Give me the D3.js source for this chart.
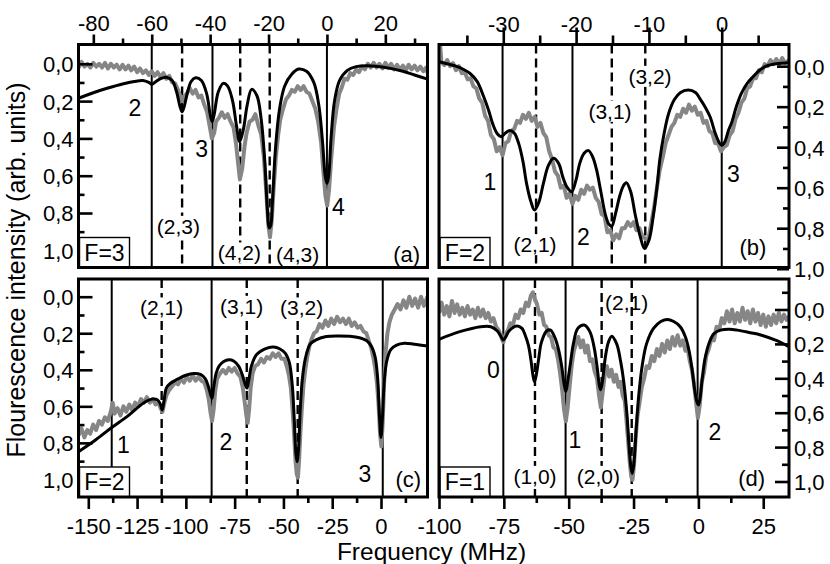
<!DOCTYPE html>
<html><head><meta charset="utf-8">
<script src="https://cdn.jsdelivr.net/npm/d3@7"></script>
<style>
html,body{margin:0;padding:0;background:#fff}
svg{display:block}
text{font-family:"Liberation Sans",Arial,Helvetica,sans-serif;fill:#000}
</style>
</head><body>
<svg id="chart" width="830" height="564"></svg>
<script>
// ---------------- DATA ----------------
// Panel (a) F=3
const fitA = [[-85.1,0.185],[-80,0.155],[-75,0.13],[-70,0.108],[-66,0.095],[-63,0.09],[-61,0.1],[-60,0.11],[-59,0.1],[-57,0.08],[-55,0.072],[-53,0.09],[-51.5,0.15],[-50.3,0.23],[-49.6,0.257],[-48.9,0.23],[-47.7,0.15],[-46.5,0.095],[-45,0.075],[-43,0.09],[-41.2,0.16],[-40,0.27],[-39.3,0.31],[-38.6,0.27],[-37.2,0.15],[-35.5,0.105],[-34,0.12],[-32.3,0.2],[-31,0.33],[-29.9,0.418],[-28.6,0.35],[-27.3,0.22],[-25.8,0.137],[-24,0.17],[-22.5,0.3],[-21.3,0.52],[-20.4,0.78],[-19.8,0.88],[-19.3,0.87],[-18.6,0.72],[-17.6,0.45],[-16.3,0.25],[-14.5,0.12],[-12,0.055],[-9.7,0.028],[-7,0.04],[-4.5,0.1],[-2.8,0.22],[-1.5,0.42],[-0.6,0.6],[0,0.641],[0.6,0.6],[1.4,0.4],[2.6,0.2],[4.3,0.09],[7,0.035],[10,0.015],[14,0.01],[20,0.02],[26,0.04],[30,0.06],[34.5,0.082]];
const dataA = [[-85,0.02],[-84,-0.01],[-83,0.015],[-82,0.0],[-81,0.02],[-80,-0.005],[-79,0.015],[-78,0.0],[-77,0.02],[-76,-0.005],[-75,0.025],[-74,0.0],[-73,0.02],[-72,0.005],[-71,0.03],[-70,0.005],[-69,0.03],[-68,0.01],[-67,0.035],[-66,0.015],[-65,0.045],[-64,0.025],[-63,0.05],[-62,0.035],[-61,0.06],[-60,0.04],[-59,0.065],[-58,0.045],[-57,0.07],[-56,0.05],[-55,0.08],[-54,0.065],[-53,0.1],[-52,0.105],[-51,0.14],[-50.3,0.17],[-49.6,0.2],[-48.8,0.175],[-48,0.16],[-47,0.13],[-46,0.16],[-45,0.14],[-44,0.18],[-43,0.17],[-42,0.22],[-41,0.26],[-40.2,0.33],[-39.4,0.4],[-38.6,0.37],[-38,0.31],[-37,0.29],[-36,0.26],[-35,0.29],[-34,0.27],[-33,0.31],[-32,0.34],[-31.2,0.42],[-30.5,0.52],[-29.8,0.62],[-29,0.56],[-28.2,0.44],[-27.5,0.37],[-26.5,0.31],[-25.5,0.3],[-24.5,0.27],[-23.5,0.33],[-22.5,0.38],[-21.6,0.5],[-20.8,0.68],[-20.1,0.86],[-19.5,0.93],[-18.9,0.84],[-18.3,0.68],[-17.5,0.5],[-16.7,0.38],[-16,0.3],[-15,0.24],[-14,0.19],[-13,0.17],[-12,0.14],[-11,0.15],[-10,0.12],[-9,0.14],[-8,0.12],[-7,0.15],[-6,0.16],[-5,0.2],[-4,0.24],[-3,0.31],[-2,0.42],[-1.2,0.58],[-0.5,0.71],[0.1,0.76],[0.7,0.68],[1.5,0.5],[2.4,0.34],[3.3,0.24],[4.2,0.16],[5,0.13],[6,0.08],[7,0.085],[8,0.05],[9,0.06],[10,0.03],[11,0.045],[12,0.015],[13,0.03],[14,0.0],[15,0.02],[16,-0.005],[17,0.02],[18,0.0],[19,0.025],[20,-0.005],[21,0.02],[22,0.0],[23,0.03],[24,0.005],[25,0.03],[26,0.01],[27,0.035],[28,0.005],[29,0.03],[30,0.01],[31,0.035],[32,0.015],[33,0.04],[34,0.02],[34.5,0.05]];
const solidA = [-60, -39.2, 0];
const dashedA = [-49.6, -29.7, -19.6];
const xTicksA = [-80, -60, -40, -20, 0, 20];
const xMinorA = [-70, -50, -30, -10, 10, 30];

// Panel (b) F=2
const fitB = [[-38.8,-0.022],[-37.5,-0.01],[-36.5,0.0],[-35.5,0.015],[-34.6,0.035],[-33.6,0.075],[-32.7,0.15],[-32,0.22],[-31.4,0.29],[-30.8,0.335],[-30.3,0.348],[-29.7,0.33],[-29.1,0.318],[-28.5,0.33],[-27.9,0.38],[-27.3,0.47],[-26.8,0.58],[-26.2,0.67],[-25.7,0.71],[-25.1,0.67],[-24.5,0.58],[-23.8,0.49],[-23.1,0.455],[-22.4,0.48],[-21.8,0.55],[-21.2,0.6],[-20.6,0.62],[-20,0.56],[-19.5,0.48],[-18.9,0.43],[-18.3,0.417],[-17.7,0.45],[-17.2,0.51],[-16.6,0.62],[-16,0.73],[-15.5,0.78],[-15.1,0.79],[-14.6,0.73],[-14,0.64],[-13.5,0.59],[-13.1,0.575],[-12.5,0.62],[-11.9,0.73],[-11.2,0.84],[-10.6,0.9],[-10,0.86],[-9.4,0.74],[-8.9,0.6],[-8.5,0.46],[-7.9,0.33],[-7.3,0.235],[-6.5,0.165],[-5.7,0.131],[-4.6,0.118],[-3.6,0.13],[-3,0.16],[-2.3,0.2],[-1.6,0.25],[-0.9,0.33],[-0.3,0.38],[0,0.39],[0.4,0.375],[0.9,0.32],[1.4,0.275],[2,0.2],[2.7,0.134],[3.5,0.085],[4.3,0.052],[5.2,0.02],[6.1,0.0],[7.5,-0.012],[9.3,-0.017]];
const dataB = [[-38.8,-0.03],[-38.65,-0.095],[-38.5,-0.02],[-38.1,-0.005],[-37.7,-0.03],[-37.3,0.0],[-36.9,-0.015],[-36.5,0.02],[-36.1,0.0],[-35.7,0.035],[-35.3,0.03],[-34.9,0.065],[-34.5,0.06],[-34.1,0.1],[-33.7,0.11],[-33.3,0.16],[-32.9,0.18],[-32.5,0.245],[-32.1,0.27],[-31.7,0.34],[-31.3,0.36],[-30.9,0.42],[-30.5,0.4],[-30.1,0.44],[-29.7,0.38],[-29.3,0.37],[-28.9,0.32],[-28.5,0.31],[-28.1,0.27],[-27.7,0.28],[-27.3,0.24],[-26.9,0.26],[-26.5,0.23],[-26.1,0.27],[-25.7,0.25],[-25.3,0.3],[-24.9,0.28],[-24.5,0.33],[-24.1,0.35],[-23.7,0.42],[-23.3,0.46],[-22.9,0.52],[-22.5,0.54],[-22.1,0.6],[-21.7,0.59],[-21.3,0.65],[-20.9,0.63],[-20.5,0.68],[-20.1,0.64],[-19.7,0.66],[-19.3,0.61],[-18.9,0.63],[-18.5,0.59],[-18.1,0.61],[-17.7,0.6],[-17.3,0.65],[-16.9,0.67],[-16.5,0.73],[-16.1,0.74],[-15.7,0.82],[-15.3,0.81],[-14.9,0.86],[-14.5,0.83],[-14.1,0.85],[-13.7,0.8],[-13.3,0.8],[-12.9,0.77],[-12.5,0.79],[-12.1,0.77],[-11.7,0.81],[-11.3,0.8],[-10.9,0.84],[-10.5,0.85],[-10.1,0.86],[-9.7,0.78],[-9.3,0.7],[-8.9,0.6],[-8.5,0.51],[-8.1,0.45],[-7.7,0.38],[-7.3,0.34],[-6.9,0.3],[-6.5,0.28],[-6.1,0.24],[-5.7,0.25],[-5.3,0.21],[-4.9,0.23],[-4.5,0.19],[-4.1,0.22],[-3.7,0.2],[-3.3,0.24],[-2.9,0.23],[-2.5,0.28],[-2.1,0.27],[-1.7,0.32],[-1.3,0.33],[-0.9,0.38],[-0.5,0.38],[-0.1,0.42],[0.3,0.4],[0.7,0.39],[1.1,0.34],[1.5,0.32],[1.9,0.26],[2.3,0.23],[2.7,0.18],[3.1,0.16],[3.5,0.11],[3.9,0.1],[4.3,0.06],[4.7,0.06],[5.1,0.02],[5.5,0.03],[5.9,-0.01],[6.3,0.0],[6.7,-0.03],[7.1,-0.01],[7.5,-0.035],[7.9,-0.01],[8.3,-0.04],[8.7,-0.015],[9.24,-0.03]];
const solidB = [-30.1, -20.5, 0];
const dashedB = [-25.5, -15.1, -10.5];
const xTicksB = [-30, -20, -10, 0];
const xMinorB = [-35, -25, -15, -5, 5];

// Panel (c) F=2
const fitC = [[-155,0.848],[-147,0.79],[-138.5,0.72],[-130,0.655],[-121.5,0.58],[-117,0.56],[-114.5,0.565],[-113,0.59],[-112.1,0.62],[-111.2,0.57],[-110,0.5],[-108,0.475],[-104,0.45],[-100,0.43],[-96,0.42],[-92.5,0.425],[-90,0.45],[-88.5,0.49],[-87.2,0.54],[-86.6,0.556],[-85.8,0.5],[-84.5,0.42],[-83,0.38],[-80.6,0.355],[-78,0.345],[-75.5,0.352],[-73,0.38],[-71,0.43],[-69.6,0.48],[-68.7,0.5],[-67.8,0.46],[-66.5,0.383],[-64,0.32],[-61.9,0.3],[-58,0.28],[-55,0.275],[-52,0.285],[-49,0.31],[-47,0.36],[-45.5,0.48],[-44.5,0.66],[-43.6,0.86],[-43,0.903],[-42.3,0.84],[-41.4,0.62],[-40.3,0.45],[-38.8,0.34],[-36.3,0.26],[-33,0.235],[-28,0.218],[-22,0.215],[-16,0.217],[-11,0.225],[-7.5,0.24],[-5,0.27],[-3,0.33],[-1.7,0.45],[-0.8,0.65],[0,0.77],[0.8,0.65],[1.7,0.46],[3,0.35],[5,0.29],[8,0.265],[12,0.255],[17,0.26],[23.9,0.27]];
const dataC = [[-155,0.76],[-153.5,0.72],[-152,0.77],[-150.5,0.73],[-149,0.75],[-147.5,0.7],[-146,0.73],[-144.5,0.68],[-143,0.7],[-141.5,0.66],[-140,0.68],[-138.5,0.63],[-137.5,0.58],[-136.5,0.64],[-135,0.61],[-133.5,0.65],[-132,0.6],[-130.5,0.63],[-129,0.59],[-127.5,0.62],[-126,0.58],[-124.5,0.6],[-123,0.56],[-121.5,0.58],[-120,0.55],[-118.5,0.58],[-117,0.56],[-115.5,0.59],[-114,0.58],[-113,0.61],[-112,0.63],[-111,0.58],[-110,0.54],[-108.5,0.51],[-107,0.49],[-105.5,0.47],[-104,0.48],[-102.5,0.45],[-101,0.47],[-99.5,0.44],[-98,0.46],[-96.5,0.43],[-95,0.46],[-93.5,0.44],[-92,0.46],[-90.5,0.47],[-89.3,0.51],[-88.3,0.56],[-87.4,0.63],[-86.6,0.68],[-85.8,0.62],[-85,0.52],[-84,0.45],[-82.5,0.42],[-81,0.4],[-79.5,0.42],[-78,0.39],[-76.5,0.41],[-75,0.39],[-73.5,0.42],[-72,0.44],[-70.8,0.5],[-69.8,0.58],[-69,0.65],[-68.3,0.69],[-67.6,0.62],[-66.8,0.5],[-65.8,0.42],[-64.5,0.38],[-63,0.37],[-61.5,0.34],[-60,0.36],[-58.5,0.33],[-57,0.34],[-55.5,0.31],[-54,0.33],[-52.5,0.31],[-51,0.34],[-49.5,0.34],[-48.3,0.38],[-47.2,0.43],[-46.2,0.5],[-45.3,0.62],[-44.5,0.76],[-43.8,0.9],[-43.2,0.97],[-42.6,0.99],[-42,0.9],[-41.3,0.74],[-40.5,0.6],[-39.7,0.48],[-38.8,0.4],[-37.8,0.33],[-36.7,0.27],[-35.5,0.23],[-34.3,0.2],[-33,0.19],[-31.5,0.15],[-30,0.17],[-28.5,0.13],[-27,0.16],[-25.5,0.12],[-24,0.15],[-22.5,0.11],[-21,0.14],[-19.5,0.12],[-18,0.15],[-16.5,0.12],[-15,0.16],[-13.5,0.14],[-12,0.17],[-10.5,0.16],[-9,0.19],[-7.5,0.2],[-6,0.25],[-5,0.28],[-4,0.33],[-3,0.39],[-2,0.48],[-1.2,0.6],[-0.5,0.75],[0.2,0.82],[0.9,0.68],[1.6,0.47],[2.4,0.3],[3.3,0.2],[4.3,0.14],[5.5,0.1],[7,0.07],[8.5,0.04],[10,0.07],[11.5,0.02],[13,0.06],[14.5,0.0],[16,0.05],[17.5,0.01],[19,0.06],[20.5,0.0],[22,0.05],[23.8,0.0]];
const solidC = [-138, -86.8, 0.9];
const dashedC = [-112.4, -68.8, -42.7];
const xTicksC = [-150, -125, -100, -75, -50, -25, 0];
const xMinorC = [-137.5, -112.5, -87.5, -62.5, -37.5, -12.5, 12.5];

// Panel (d) F=1
const fitD = [[-100,0.173],[-92,0.129],[-84,0.1],[-80,0.1],[-77.5,0.125],[-76,0.16],[-75.2,0.178],[-74.3,0.16],[-73,0.125],[-70,0.096],[-68,0.11],[-66.8,0.148],[-65.5,0.21],[-64.5,0.3],[-63.8,0.38],[-63.2,0.419],[-62.5,0.38],[-61.6,0.29],[-60.5,0.19],[-58.5,0.125],[-57,0.12],[-55.2,0.168],[-53.8,0.24],[-52.7,0.33],[-51.8,0.43],[-51.1,0.477],[-50.4,0.42],[-49.4,0.32],[-48.2,0.2],[-46.5,0.11],[-44,0.09],[-41.8,0.13],[-40.2,0.22],[-39,0.34],[-38.2,0.44],[-37.7,0.467],[-37,0.42],[-35.9,0.28],[-34.7,0.19],[-33.4,0.155],[-31.5,0.2],[-30,0.3],[-28.7,0.43],[-27.6,0.6],[-26.7,0.8],[-26,0.92],[-25.5,0.953],[-24.9,0.9],[-24,0.7],[-23,0.5],[-21.6,0.32],[-20,0.2],[-17.3,0.11],[-14.5,0.07],[-12,0.058],[-9.5,0.07],[-7,0.1],[-5,0.16],[-3.6,0.24],[-2.5,0.34],[-1.5,0.46],[-0.5,0.54],[0,0.555],[0.6,0.52],[1.5,0.4],[2.5,0.29],[4,0.2],[6,0.14],[8.5,0.12],[12,0.115],[15,0.12],[20,0.135],[24,0.148],[30,0.18],[35,0.217]];
const dataD = [[-100,0.02],[-99,-0.04],[-98,0.03],[-97,-0.02],[-96,0.04],[-95,-0.05],[-94,0.02],[-93,-0.03],[-92,0.03],[-91,-0.01],[-90,0.04],[-89,-0.02],[-88,0.03],[-87,0.0],[-86,0.05],[-85,-0.01],[-84,0.04],[-83,0.0],[-82,0.05],[-81,0.02],[-80,0.07],[-79,0.05],[-78,0.1],[-77,0.12],[-76,0.16],[-75.2,0.19],[-74.3,0.14],[-73.4,0.12],[-72.5,0.08],[-71.5,0.09],[-70.5,0.03],[-69.5,0.05],[-68.5,0.0],[-67.5,0.02],[-66.5,-0.04],[-65.5,-0.02],[-64.6,-0.08],[-63.8,-0.1],[-63,-0.06],[-62.2,-0.03],[-61.3,0.03],[-60.4,0.02],[-59.5,0.09],[-58.6,0.1],[-57.7,0.15],[-56.8,0.16],[-55.9,0.22],[-55,0.23],[-54.1,0.29],[-53.3,0.37],[-52.5,0.47],[-51.8,0.58],[-51.1,0.65],[-50.4,0.57],[-49.6,0.44],[-48.8,0.32],[-48,0.24],[-47.2,0.2],[-46.3,0.16],[-45.4,0.22],[-44.5,0.18],[-43.6,0.25],[-42.7,0.21],[-41.8,0.3],[-40.9,0.29],[-40,0.36],[-39.1,0.4],[-38.3,0.5],[-37.6,0.57],[-36.9,0.48],[-36.1,0.38],[-35.3,0.33],[-34.4,0.39],[-33.5,0.35],[-32.6,0.42],[-31.7,0.38],[-30.8,0.45],[-30,0.42],[-29.2,0.5],[-28.4,0.53],[-27.7,0.65],[-27.1,0.76],[-26.5,0.88],[-25.9,0.97],[-25.4,0.99],[-24.8,0.9],[-24.2,0.75],[-23.5,0.62],[-22.7,0.54],[-21.8,0.45],[-20.9,0.4],[-20,0.33],[-19,0.34],[-18,0.27],[-17,0.3],[-16,0.23],[-15,0.27],[-14,0.2],[-13,0.25],[-12,0.18],[-11,0.23],[-10,0.16],[-9,0.21],[-8,0.15],[-7,0.21],[-6,0.18],[-5,0.24],[-4.2,0.22],[-3.3,0.3],[-2.5,0.35],[-1.7,0.43],[-0.9,0.54],[-0.2,0.63],[0.5,0.56],[1.3,0.42],[2.1,0.37],[3,0.27],[4,0.23],[5,0.17],[6,0.18],[7,0.1],[8,0.12],[9,0.05],[10,0.08],[11,0.01],[12,0.07],[13,0.0],[14,0.08],[15,0.02],[16,0.07],[17,-0.01],[18,0.06],[19,0.01],[20,0.08],[21,0.0],[22,0.07],[23,0.02],[24,0.09],[25,0.03],[26,0.1],[27,0.04],[28,0.09],[29,0.03],[30,0.08],[31,0.02],[32,0.07],[33,0.03],[34,0.06],[34.9,0.04]];
const solidD = [-75.2, -51.2, -0.3];
const dashedD = [-63.0, -37.3, -25.7];
const xTicksD = [-100, -75, -50, -25, 0, 25];
const xMinorD = [-87.5, -62.5, -37.5, -12.5, 12.5];

// shared y ticks
const yTicks = [0, 0.2, 0.4, 0.6, 0.8, 1.0];
const yMinor = [0.1, 0.3, 0.5, 0.7, 0.9];
const yMinorD = [-0.1, 0.1, 0.3, 0.5, 0.7, 0.9];

// ---------------- LAYOUT ----------------
const FONT = '"Liberation Sans",Arial,Helvetica,sans-serif';
const svg = d3.select("#chart");
const fmtY = v => d3.format(".1f")(v).replace(".", ",");
const fmtX = d => d < 0 ? "-" + Math.abs(d) : String(d);

const panels = [
  {id:"a", r:[78.5,44.5,427.5,267.5], xd:[-85.08,34.44], yd:[-0.1035,1.0922], fit:fitA, data:dataA, solid:solidA, dashed:dashedA,
   xt:xTicksA, xm:xMinorA, xPos:"top", xMaj:10, xMin:6, xPad:4, yPos:"left", yMaj:14, yMin:6, ym:yMinor,
   box:"F=3", tag:["(a)",406.7,255],
   nums:[["2",135,108],["3",201.7,148.3],["4",338.3,206.7]],
   pairs:[["(2,3)",178.3,226.7,true],["(4,2)",239.3,253.3,true],["(4,3)",297.7,255,true]]},
  {id:"b", r:[439,44.5,789,267.5], xd:[-38.83,9.24], yd:[-0.107,0.994], fit:fitB, data:dataB, solid:solidB, dashed:dashedB,
   xt:xTicksB, xm:xMinorB, xPos:"top", xMaj:17, xMin:9, xPad:-4, yPos:"right", yMaj:12, yMin:6, ym:yMinor,
   box:"F=2", tag:["(b)",753,248],
   nums:[["1",490,181.7],["2",583.3,236.7],["3",733.3,173.3]],
   pairs:[["(2,1)",535,245,true],["(3,1)",610,111.7,true],["(3,2)",650,76.7,true]]},
  {id:"c", r:[78.5,279,427.5,497], xd:[-155.02,23.83], yd:[-0.0969,1.0963], fit:fitC, data:dataC, solid:solidC, dashed:dashedC,
   xt:xTicksC, xm:xMinorC, xPos:"bottom", xMaj:12, xMin:6, xPad:9, yPos:"left", yMaj:14, yMin:6, ym:yMinor,
   box:"F=2", tag:["(c)",408.3,480],
   nums:[["1",123.3,445],["2",226,441.7],["3",365,473.3]],
   pairs:[["(2,1)",161.7,308.3,true],["(3,1)",241.7,306.7,true],["(3,2)",301.7,308.3,true]]},
  {id:"d", r:[439,279,789,497], xd:[-100,34.93], yd:[-0.1773,1.0901], fit:fitD, data:dataD, solid:solidD, dashed:dashedD,
   xt:xTicksD, xm:xMinorD, xPos:"bottom", xMaj:12, xMin:6, xPad:9, yPos:"right", yMaj:14, yMin:7, ym:yMinorD,
   box:"F=1", tag:["(d)",751.7,478.3],
   nums:[["0",493.3,370],["1",575,440],["2",715,431.7]],
   pairs:[["(1,0)",535,476.7,true],["(2,0)",598.3,476.7,true],["(2,1)",626.7,303.3,false]]}
];

function styleAxis(g, fs) {
  g.select(".domain").remove();
  g.attr("font-family", FONT).attr("font-size", fs);
  g.selectAll(".tick line").attr("stroke", "#000").attr("stroke-width", 2.6);
  g.selectAll(".tick text").attr("fill", "#000");
}

panels.forEach(p => {
  const [x0, y0, x1, y1] = p.r;
  const x = d3.scaleLinear().domain(p.xd).range([x0, x1]);
  const y = d3.scaleLinear().domain(p.yd).range([y0, y1]);
  const g = svg.append("g");

  g.append("clipPath").attr("id", "clip-" + p.id)
    .append("rect").attr("x", x0).attr("y", y0).attr("width", x1 - x0).attr("height", y1 - y0);
  const plot = g.append("g").attr("clip-path", `url(#clip-${p.id})`);

  // vertical lines
  plot.selectAll(".solid").data(p.solid).join("line")
    .attr("x1", d => x(d)).attr("x2", d => x(d)).attr("y1", y0).attr("y2", y1)
    .attr("stroke", "#000").attr("stroke-width", 2);
  plot.selectAll(".dash").data(p.dashed).join("line")
    .attr("x1", d => x(d)).attr("x2", d => x(d)).attr("y1", y0).attr("y2", y1)
    .attr("stroke", "#000").attr("stroke-width", 2.4).attr("stroke-dasharray", "9,5");

  // experimental trace (gray)
  plot.append("path").datum(p.data)
    .attr("d", d3.line().x(d => x(d[0])).y(d => y(d[1])))
    .attr("fill", "none").attr("stroke", "#868686").attr("stroke-width", 4).attr("stroke-linejoin", "round");
  // fit (black)
  plot.append("path").datum(p.fit)
    .attr("d", d3.line().x(d => x(d[0])).y(d => y(d[1])).curve(d3.curveCatmullRom.alpha(0.5)))
    .attr("fill", "none").attr("stroke", "#000").attr("stroke-width", 3);

  // x axis
  const xAxisFn = p.xPos === "top" ? d3.axisTop : d3.axisBottom;
  const yPosPx = p.xPos === "top" ? y0 : y1;
  const gx = g.append("g").attr("transform", `translate(0,${yPosPx})`)
    .call(xAxisFn(x).tickValues(p.xt).tickSize(p.xMaj).tickPadding(p.xPad).tickFormat(fmtX));
  styleAxis(gx, 22);
  const gxm = g.append("g").attr("transform", `translate(0,${yPosPx})`)
    .call(xAxisFn(x).tickValues(p.xm.filter(v => v >= p.xd[0] && v <= p.xd[1])).tickSize(p.xMin).tickFormat(""));
  styleAxis(gxm, 22);
  gxm.selectAll("text").remove();

  // y axis (ticks inward)
  const yAxisFn = p.yPos === "left" ? d3.axisLeft : d3.axisRight;
  const xPosPx = p.yPos === "left" ? x0 : x1;
  const gy = g.append("g").attr("transform", `translate(${xPosPx},0)`)
    .call(yAxisFn(y).tickValues(yTicks).tickSize(-p.yMaj).tickPadding(5).tickFormat(fmtY));
  styleAxis(gy, 22);
  gy.selectAll(".tick text").attr("dy", "0.36em");
  const gym = g.append("g").attr("transform", `translate(${xPosPx},0)`)
    .call(yAxisFn(y).tickValues(p.ym.filter(v => v >= p.yd[0] && v <= p.yd[1])).tickSize(-p.yMin).tickFormat(""));
  styleAxis(gym, 22);
  gym.selectAll("text").remove();

  // F box
  const bx = x0 + 1, by = y1 - 30;
  g.append("rect").attr("x", bx).attr("y", by).attr("width", 50).attr("height", 30)
    .attr("fill", "#fff").attr("stroke", "#000").attr("stroke-width", 1.4);
  g.append("text").attr("x", bx + 25).attr("y", by + 15).attr("dy", "0.36em")
    .attr("text-anchor", "middle").attr("font-size", 23).text(p.box);

  // level numbers
  g.selectAll(".num").data(p.nums).join("text")
    .attr("x", d => d[1]).attr("y", d => d[2]).attr("dy", "0.36em")
    .attr("text-anchor", "middle").attr("font-size", 23).text(d => d[0]);

  // crossover labels (with white backing where they interrupt lines)
  p.pairs.forEach(d => {
    const t = g.append("text").attr("x", d[1]).attr("y", d[2]).attr("dy", "0.34em")
      .attr("text-anchor", "middle").attr("font-size", 21).text(d[0]);
    if (d[3]) {
      const bb = t.node().getBBox();
      g.insert("rect", () => t.node())
        .attr("x", bb.x - 1).attr("y", bb.y + 1).attr("width", bb.width + 2).attr("height", bb.height - 2)
        .attr("fill", "#fff");
    }
  });

  // panel tag
  g.append("text").attr("x", p.tag[1]).attr("y", p.tag[2]).attr("dy", "0.34em")
    .attr("text-anchor", "middle").attr("font-size", 22).text(p.tag[0]);

  // frame
  g.append("rect").attr("x", x0).attr("y", y0).attr("width", x1 - x0).attr("height", y1 - y0)
    .attr("fill", "none").attr("stroke", "#000").attr("stroke-width", 3);
});

// axis titles
svg.append("text").attr("transform", "translate(25,270) rotate(-90)")
  .attr("text-anchor", "middle").attr("font-size", 25)
  .text("Flourescence intensity (arb. units)");
svg.append("text").attr("x", 431.5).attr("y", 559.5)
  .attr("text-anchor", "middle").attr("font-size", 24.5)
  .text("Frequency (MHz)");
</script>
</body></html>
